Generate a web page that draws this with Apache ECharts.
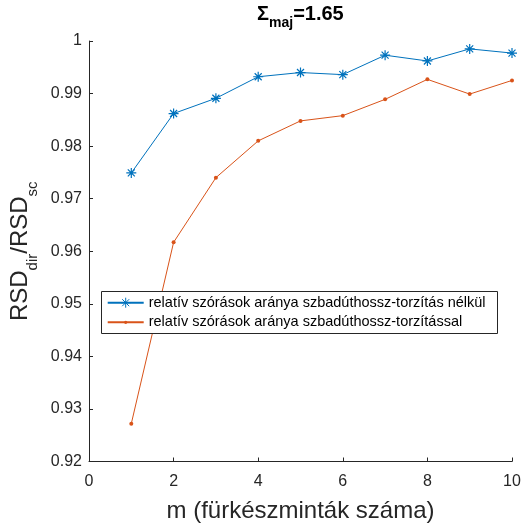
<!DOCTYPE html>
<html>
<head>
<meta charset="utf-8">
<script src="https://cdn.jsdelivr.net/npm/echarts@6/dist/echarts.min.js"></script>
<style>
  html, body { margin: 0; padding: 0; background: #fff; }
  #chart { width: 521px; height: 525px; }
</style>
</head>
<body>
<div id="chart"></div>
<script>
// Number of probe samples m
var mValues = [1, 2, 3, 4, 5, 6, 7, 8, 9, 10];
// RSD_dir / RSD_sc without path-length distortion
var ratioNoDistortion = [0.9749, 0.9862, 0.9891, 0.9932, 0.9940, 0.9936, 0.9973, 0.9962, 0.9985, 0.9977];
// RSD_dir / RSD_sc with path-length distortion
var ratioWithDistortion = [0.9272, 0.9617, 0.9740, 0.9810, 0.9848, 0.9858, 0.9889, 0.9927, 0.9899, 0.9925];

var seriesNames = [
  'relatív szórások aránya szbadúthossz-torzítás nélkül',
  'relatív szórások aránya szbadúthossz-torzítással'
];

var FONT = '"Liberation Sans", Arial, Helvetica, sans-serif';
var AXIS_COLOR = '#262626';
var BLUE = '#0072BD';
var ORANGE = '#D95319';

// eight-armed asterisk marker drawn as strokes
var ASTERISK = 'path://M5,0L5,10M0,5L10,5M1.5,1.5L8.5,8.5M1.5,8.5L8.5,1.5';

function pairs(xs, ys) {
  return xs.map(function (x, i) { return [x, ys[i]]; });
}

var chart = echarts.init(document.getElementById('chart'), null, { renderer: 'canvas' });

var legendText = { fontFamily: FONT, fontSize: 14.5, lineHeight: 16, color: '#000' };

chart.setOption({
  animation: false,
  backgroundColor: '#fff',
  textStyle: { fontFamily: FONT },
  title: {
    text: '{a|Σ}{b|maj}{a|=1.65}',
    left: 257,
    top: 2,
    padding: 0,
    textStyle: {
      rich: {
        a: { fontFamily: FONT, fontSize: 20, fontWeight: 'bold', color: '#000', lineHeight: 24 },
        b: { fontFamily: FONT, fontSize: 14, fontWeight: 'bold', color: '#000', lineHeight: 14, padding: [18, 0, 0, 0] }
      }
    }
  },
  grid: { left: 89, right: 9, top: 41, bottom: 63.5, containLabel: false, outerBoundsMode: 'none' },
  xAxis: {
    type: 'value',
    min: 0,
    max: 10,
    interval: 2,
    name: 'm (fürkészminták száma)',
    nameLocation: 'middle',
    nameGap: 38,
    nameTextStyle: { fontFamily: FONT, fontSize: 24, color: AXIS_COLOR },
    axisLine: { show: true, lineStyle: { color: AXIS_COLOR, width: 1 } },
    axisTick: { show: true, inside: true, length: 4, lineStyle: { color: AXIS_COLOR } },
    axisLabel: { fontFamily: FONT, fontSize: 16, color: AXIS_COLOR, margin: 12 },
    splitLine: { show: false }
  },
  yAxis: {
    type: 'value',
    min: 0.92,
    max: 1,
    interval: 0.01,
    name: '{m|RSD}{s|dir}{m|/RSD}{s|sc}',
    nameLocation: 'middle',
    nameGap: 48,
    nameTextStyle: {
      color: AXIS_COLOR,
      rich: {
        m: { fontFamily: FONT, fontSize: 24, color: AXIS_COLOR, lineHeight: 28 },
        s: { fontFamily: FONT, fontSize: 15, color: AXIS_COLOR, lineHeight: 15, padding: [25, 0, 0, 0] }
      }
    },
    axisLine: { show: true, lineStyle: { color: AXIS_COLOR, width: 1 } },
    axisTick: { show: true, inside: true, length: 4, lineStyle: { color: AXIS_COLOR } },
    axisLabel: {
      fontFamily: FONT, fontSize: 16, color: AXIS_COLOR, margin: 7,
      formatter: function (v) { return String(Math.round(v * 100) / 100); }
    },
    splitLine: { show: false }
  },
  graphic: [{
    type: 'rect',
    z: 10,
    shape: { x: 101.5, y: 291.5, width: 396, height: 42 },
    style: { fill: '#fff', stroke: AXIS_COLOR, lineWidth: 1 }
  }],
  legend: [{
    data: [seriesNames[0]],
    left: 106.7,
    top: 294.7,
    padding: 0,
    z: 20,
    itemWidth: 36,
    itemHeight: 12.5,
    selectedMode: false,
    itemStyle: { borderWidth: 1 },
    textStyle: legendText
  }, {
    data: [seriesNames[1]],
    left: 106.7,
    top: 314.3,
    padding: 0,
    z: 20,
    itemWidth: 36,
    itemHeight: 4,
    selectedMode: false,
    itemStyle: { borderWidth: 0 },
    textStyle: legendText
  }],
  series: [{
    name: seriesNames[0],
    type: 'line',
    data: pairs(mValues, ratioNoDistortion),
    symbol: ASTERISK,
    symbolSize: 10,
    showAllSymbol: true,
    lineStyle: { color: BLUE, width: 1 },
    itemStyle: { color: BLUE, borderColor: BLUE, borderWidth: 1.2 },
    emphasis: { disabled: true }
  }, {
    name: seriesNames[1],
    type: 'line',
    data: pairs(mValues, ratioWithDistortion),
    symbol: 'circle',
    symbolSize: 4,
    showAllSymbol: true,
    lineStyle: { color: ORANGE, width: 1 },
    itemStyle: { color: ORANGE, borderWidth: 0 },
    emphasis: { disabled: true }
  }]
});
</script>
</body>
</html>
